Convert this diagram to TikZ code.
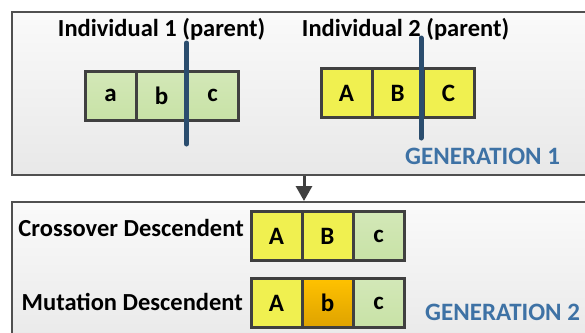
\documentclass[tikz,border=0pt]{standalone}
\usepackage{fontspec}
\setmainfont{Carlito}
\usepackage{tikz}
\usetikzlibrary{arrows.meta,positioning}
\definecolor{framegray}{RGB}{80,80,80}
\definecolor{cellborder}{RGB}{64,64,64}
\definecolor{genegreen}{RGB}{200,226,166}
\definecolor{geneyellow}{RGB}{240,240,80}
\definecolor{orangetop}{RGB}{255,194,0}
\definecolor{orangebot}{RGB}{222,162,0}
\definecolor{cutblue}{RGB}{43,77,110}
\definecolor{genblue}{RGB}{62,114,165}
\tikzset{
  stage/.style={draw=framegray, line width=2pt, anchor=north west,
    top color=white!98!black, bottom color=white!91!black, inner sep=0pt},
  gene/.style={draw=cellborder, line width=3pt, minimum width=51pt,
    minimum height=49pt, inner sep=0pt, outer sep=0pt,
    font=\fontsize{25}{26}\selectfont\bfseries},
  green/.style={gene, top color=genegreen!80!white, bottom color=genegreen},
  yellow/.style={gene, fill=geneyellow},
  orange/.style={gene, top color=orangetop, bottom color=orangebot},
  title/.style={font=\fontsize{24.5}{26}\selectfont\bfseries, inner sep=0pt},
  gentag/.style={font=\fontsize{25}{28}\selectfont\bfseries, text=genblue,
    inner sep=0pt, anchor=base west},
  cut/.style={cutblue, line width=5pt, line cap=round}
}
\begin{document}
\begin{tikzpicture}[x=1pt, y=-1pt]
  \useasboundingbox (0,0) rectangle (585,332);

  % The two generations; both frames run past the right and lower edges.
  \node[stage, minimum width=600pt, minimum height=163.5pt] (gen1) at (11,10.5) {};
  \node[stage, minimum width=600pt, minimum height=150pt] (gen2) at (11,201) {};

  % Parents.
  \node[green] (p1a) at (110.5,95.5) {a};
  \node[green, right=0pt of p1a] (p1b) {b};
  \node[green, right=0pt of p1b] (p1c) {c};
  \node[yellow] (p2a) at (346.5,93) {A};
  \node[yellow, right=0pt of p2a] (p2b) {B};
  \node[yellow, right=0pt of p2b] (p2c) {C};

  % Crossover points.
  \draw[cut] (186.5,43) -- (186.5,144);
  \draw[cut] (421,38) -- (421,138);

  \node[title, anchor=base] (t1) at (161.5,36) {Individual 1 (parent)};
  \node[title, anchor=base] (t2) at (405.5,36) {Individual 2 (parent)};
  \node[gentag] (g1) at (405,164) {GENERATION 1};

  % Descendants.
  \node[yellow] (cA) at (276.5,236) {A};
  \node[yellow, right=0pt of cA] (cB) {B};
  \node[green, right=0pt of cB] (cc) {c};
  \node[yellow] (mA) at (276.5,303) {A};
  \node[orange, right=0pt of mA] (mb) {b};
  \node[green, right=0pt of mb] (mc) {c};

  \node[title, anchor=base east] (tc) at (244,236) {Crossover Descendent};
  \node[title, anchor=base east] (tm) at (243,310) {Mutation Descendent};
  \node[gentag] (g2) at (425,320) {GENERATION 2};

  \coordinate (flow) at (304,0);
  \draw[cellborder, line width=3pt, -{Triangle[width=16pt,length=15pt]}]
    (gen1.south -| flow) -- (gen2.north -| flow);
\end{tikzpicture}
\end{document}
